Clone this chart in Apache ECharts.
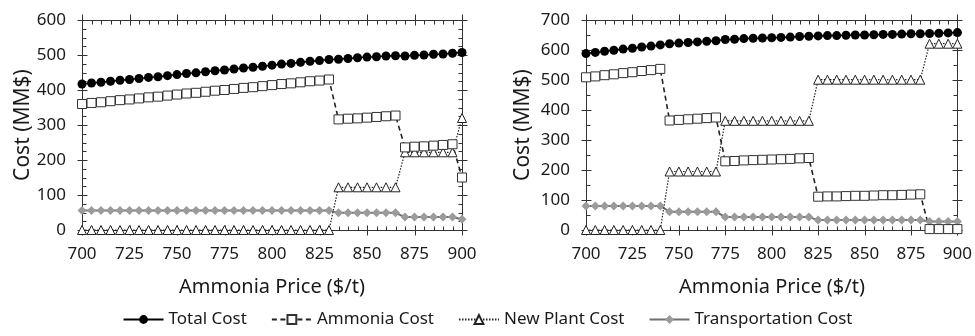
<!DOCTYPE html>
<html>
<head>
<meta charset="utf-8">
<script src="https://cdn.jsdelivr.net/npm/echarts@6/dist/echarts.min.js"></script>
<style>
  html, body { margin: 0; padding: 0; background: #fff; }
  #chart { width: 975px; height: 336px; }
</style>
</head>
<body>
<div id="chart"></div>
<script>
// Ammonia price steps ($/t), shared by both panels
const prices = [700,705,710,715,720,725,730,735,740,745,750,755,760,765,770,775,780,785,790,795,
                800,805,810,815,820,825,830,835,840,845,850,855,860,865,870,875,880,885,890,895,900];

// Left panel costs (MM$)
const leftTotal = [417,420,422,425,428,430,433,436,438,441,444,447,449,452,455,457,460,463,465,468,
                   471,474,476,479,482,484,487,488,490,492,494,495,497,498,497,499,500,502,503,505,507];
const leftAmmonia = [360,363,365,368,371,373,376,379,381,384,387,390,392,395,398,400,403,406,408,411,
                     414,417,419,422,425,427,430,316,318,319,321,323,325,327,236,238,239,241,243,245,150];
const leftPlant = [0,0,0,0,0,0,0,0,0,0,0,0,0,0,0,0,0,0,0,0,
                   0,0,0,0,0,0,0,122,122,122,122,122,122,122,222,222,222,222,222,222,320];
const leftTransport = [56,56,56,56,56,56,56,56,56,56,56,56,56,56,56,56,56,56,56,56,
                       56,56,56,56,56,56,56,49,49,49,49,49,49,49,37,37,37,37,37,37,31];

// Right panel costs (MM$)
const rightTotal = [588,592,596,599,603,606,610,613,617,621,623,625,627,629,631,635,636,638,639,640,
                    641,642,643,645,646,647,648,648,649,650,650,651,652,652,653,654,654,655,656,657,658];
const rightAmmonia = [509,512,516,519,523,526,530,533,537,365,367,369,371,373,375,229,230,232,233,234,
                      235,236,237,239,240,111,112,112,113,114,114,115,116,116,117,118,119,3,3,3,3];
const rightPlant = [0,0,0,0,0,0,0,0,0,195,195,195,195,195,195,364,364,364,364,364,
                    364,364,364,364,364,501,501,501,501,501,501,501,501,501,501,501,501,621,621,621,621];
const rightTransport = [80,80,80,80,80,80,80,80,80,61,61,61,61,61,61,43,43,43,43,43,
                        43,43,43,43,43,33,33,33,33,33,33,33,33,33,33,33,33,28,28,28,28];

// Tick labels
const xTickLabels = [700,725,750,775,800,825,850,875,900];
const leftYTickLabels = [0,100,200,300,400,500,600];
const rightYTickLabels = [0,100,200,300,400,500,600,700];

const leftYMinorStep = 25;
const rightYMinorStep = 50;

const seriesNames = ['Total Cost', 'Ammonia Cost', 'New Plant Cost', 'Transportation Cost'];
const xTitle = 'Ammonia Price ($/t)';
const yTitle = 'Cost (MM$)';

const FONT = 'Noto Sans';
const TEXT = '#1a1a1a';
const AXIS = '#333';

function pairs(ys) { return prices.map((p, i) => [p, ys[i]]); }

function minorValues(majors, step) {
  const out = [];
  for (let i = 0; i < majors.length - 1; i++) {
    for (let v = majors[i] + step; v < majors[i + 1]; v += step) out.push(v);
  }
  return out;
}

// Tick records for the frame: [x, y, side, isMajor]; side 0 bottom, 1 top, 2 left, 3 right
function frameTicks(yLabels, yStep) {
  const xMin = xTickLabels[0], xMax = xTickLabels[xTickLabels.length - 1];
  const yMin = yLabels[0], yMax = yLabels[yLabels.length - 1];
  const xMinor = prices.filter(p => xTickLabels.indexOf(p) < 0);
  const yMinor = minorValues(yLabels, yStep);
  const rows = [];
  xTickLabels.forEach(v => { rows.push([v, yMin, 0, 1]); rows.push([v, yMax, 1, 1]); });
  xMinor.forEach(v => { rows.push([v, yMin, 0, 0]); rows.push([v, yMax, 1, 0]); });
  yLabels.forEach(v => { rows.push([xMin, v, 2, 1]); rows.push([xMax, v, 3, 1]); });
  yMinor.forEach(v => { rows.push([xMin, v, 2, 0]); rows.push([xMax, v, 3, 0]); });
  return rows;
}

// Major ticks cross the frame line, minor ticks point inward only
function renderTick(params, api) {
  const p = api.coord([api.value(0), api.value(1)]);
  const side = api.value(2);
  const major = api.value(3) === 1;
  const inLen = major ? 5 : 4;
  const outLen = major ? (side === 1 ? 6 : 5) : 0;
  let shape;
  if (side === 0 || side === 1) {
    const x = Math.round(p[0]) + 0.5;
    const y = Math.round(p[1]) + 0.5;
    const dirIn = side === 0 ? -1 : 1;
    shape = { x1: x, y1: y - dirIn * outLen, x2: x, y2: y + dirIn * inLen };
  } else {
    const x = Math.round(p[0]) + 0.5;
    const y = Math.round(p[1]) + 0.5;
    const dirIn = side === 2 ? 1 : -1;
    shape = { x1: x - dirIn * outLen, y1: y, x2: x + dirIn * inLen, y2: y };
  }
  return { type: 'line', shape: shape, style: { stroke: AXIS, lineWidth: 1 } };
}

function axesFor(g, yLabels) {
  const line = { show: true, onZero: false, lineStyle: { color: AXIS, width: 1 } };
  const xBase = () => ({
    type: 'value', gridIndex: g, min: xTickLabels[0], max: xTickLabels[xTickLabels.length - 1],
    interval: xTickLabels[1] - xTickLabels[0],
    axisLine: line, axisTick: { show: false }, splitLine: { show: false }
  });
  const yBase = () => ({
    type: 'value', gridIndex: g, min: yLabels[0], max: yLabels[yLabels.length - 1],
    interval: yLabels[1] - yLabels[0],
    axisLine: line, axisTick: { show: false }, splitLine: { show: false }
  });
  const label = (m) => ({ show: true, fontFamily: FONT, fontSize: 17, color: TEXT, margin: m });
  return {
    x: [
      Object.assign(xBase(), { position: 'bottom', axisLabel: label(16) }),
      Object.assign(xBase(), { position: 'top', axisLabel: { show: false } })
    ],
    y: [
      Object.assign(yBase(), { position: 'left', axisLabel: label(16) }),
      Object.assign(yBase(), { position: 'right', axisLabel: { show: false } })
    ]
  };
}

function panelSeries(g, total, ammonia, plant, transport, yLabels, yStep) {
  const axisIdx = g * 2;
  const common = { xAxisIndex: axisIdx, yAxisIndex: axisIdx };
  return [
    Object.assign({}, common, {
      type: 'custom', renderItem: renderTick, data: frameTicks(yLabels, yStep),
      encode: { x: 0, y: 1 }, clip: false, silent: true, z: 1
    }),
    Object.assign({}, common, {
      name: seriesNames[3], type: 'line', data: pairs(transport),
      symbol: 'diamond', symbolSize: 9, showAllSymbol: true, z: 3,
      lineStyle: { color: '#6e6e6e', width: 2 },
      itemStyle: { color: '#9b9b9b', borderWidth: 0 }
    }),
    Object.assign({}, common, {
      name: seriesNames[2], type: 'line', data: pairs(plant),
      symbol: 'triangle', symbolSize: 9, showAllSymbol: true, z: 3,
      lineStyle: { color: '#222', width: 1.2, type: [1.5, 1.5] },
      itemStyle: { color: '#fff', borderColor: '#222', borderWidth: 1 }
    }),
    Object.assign({}, common, {
      name: seriesNames[1], type: 'line', data: pairs(ammonia),
      symbol: 'rect', symbolSize: 9, showAllSymbol: true, z: 3,
      lineStyle: { color: '#222', width: 1.6, type: [5, 3.5] },
      itemStyle: { color: '#fff', borderColor: '#333', borderWidth: 1 }
    }),
    Object.assign({}, common, {
      name: seriesNames[0], type: 'line', data: pairs(total),
      symbol: 'circle', symbolSize: 9, showAllSymbol: true, z: 3,
      lineStyle: { color: '#000', width: 1.5 },
      itemStyle: { color: '#000', borderWidth: 0 }
    })
  ];
}

// Axis titles as free text, centred under / beside each panel
function titleText(text, x, y, size, rotate) {
  return {
    type: 'text', x: x, y: y, rotation: rotate ? Math.PI / 2 : 0, z: 10,
    style: {
      text: text, fill: TEXT, fontFamily: FONT, fontSize: size,
      align: 'center', verticalAlign: 'middle',
      textAlign: 'center', textVerticalAlign: 'middle'
    }
  };
}

const leftAxes = axesFor(0, leftYTickLabels);
const rightAxes = axesFor(1, rightYTickLabels);

const chart = echarts.init(document.getElementById('chart'));

chart.setOption({
  grid: [
    { left: 82, top: 20, width: 380, height: 210 },
    { left: 586, top: 20, width: 372, height: 210 }
  ],
  xAxis: leftAxes.x.concat(rightAxes.x),
  yAxis: leftAxes.y.concat(rightAxes.y),
  graphic: [
    titleText(xTitle, 272, 287, 20, false),
    titleText(xTitle, 772, 287, 20, false),
    titleText(yTitle, 23, 125, 21, true),
    titleText(yTitle, 523, 125, 21, true)
  ],
  legend: {
    data: seriesNames,
    bottom: 3,
    left: 'center',
    itemWidth: 40,
    itemHeight: 11,
    itemGap: 24,
    textStyle: { fontFamily: FONT, fontSize: 17, color: TEXT }
  },
  series: [].concat(
    panelSeries(0, leftTotal, leftAmmonia, leftPlant, leftTransport, leftYTickLabels, leftYMinorStep),
    panelSeries(1, rightTotal, rightAmmonia, rightPlant, rightTransport, rightYTickLabels, rightYMinorStep)
  )
});
</script>
</body>
</html>
